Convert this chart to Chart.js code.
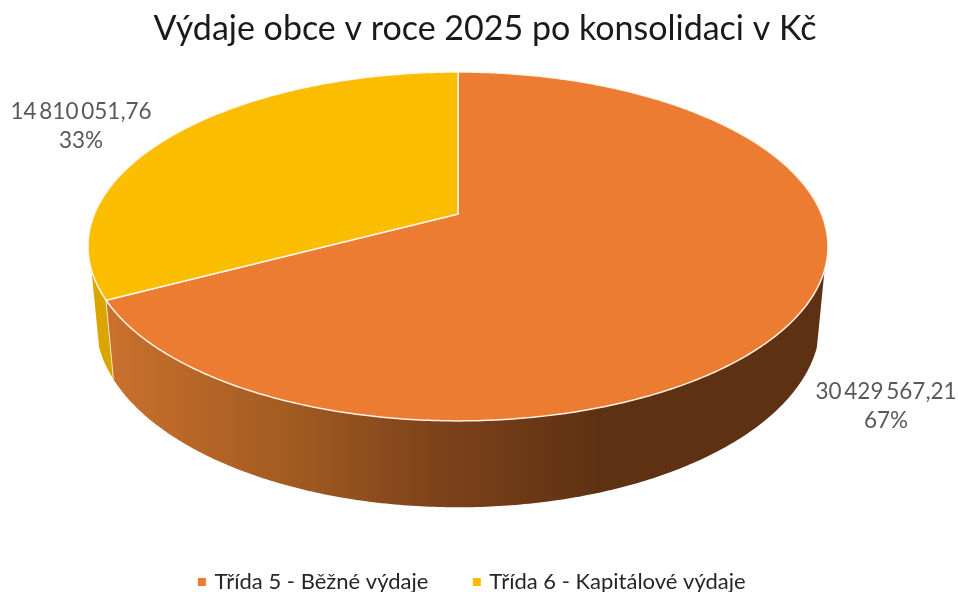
<!DOCTYPE html>
<html>
<head>
<meta charset="utf-8">
<script src="https://cdn.jsdelivr.net/npm/chart.js@4"></script>
<style>
html, body { margin: 0; padding: 0; background: #fff; }
canvas { display: block; }
</style>
</head>
<body>
<canvas id="chart" width="958" height="592"></canvas>
<script>
var chartTitle = 'Výdaje obce v roce 2025 po konsolidaci v Kč';
var categories = ['Třída 5 - Běžné výdaje', 'Třída 6 - Kapitálové výdaje'];
var values = [30429567.21, 14810051.76];
var valueLabels = ['30\u2009429\u2009567,21', '14\u2009810\u2009051,76'];
var percentLabels = ['67%', '33%'];

var topColors = ['#eb7c31', '#fbbd00'];
var wallColors = [null, '#dba500'];
var labelSpots = [[886, 392], [81, 112]];

// perspective of the disc, the angles themselves come from the pie's arcs
var view = { x: 458, y: 214, a: 363.5, b: 168.4, k: 0.186, wallX: 0.979, wallY: 1.06, wallDrop: 74, wallFrom: 0.313 };

function project(angle, low) {
	// chart.js angle 0 is at 3 o'clock, -PI/2 at the top
	var u = Math.cos(angle);
	var v = Math.sin(angle);
	var w = 1 - view.k * v;
	if (low) {
		return [view.x + view.wallX * view.a * u / w, view.y + view.wallDrop + view.wallY * view.b * v / w];
	}
	return [view.x + view.a * u / w, view.y + view.b * v / w];
}

function trace(ctx, from, to, low, first) {
	var steps = Math.max(2, Math.ceil(Math.abs(to - from) / 0.01));
	for (var i = 0; i <= steps; i++) {
		var p = project(from + (to - from) * i / steps, low);
		if (i == 0 && first) ctx.moveTo(p[0], p[1]);
		else ctx.lineTo(p[0], p[1]);
	}
}

var pie3d = {
	id: 'pie3d',
	afterLayout: function(chart) {
		chart.titleBlock.left += 6;
		chart.titleBlock.right += 6;
		chart.legend.left -= 6;
		chart.legend.right -= 6;
		chart.legend.top += 11;
		chart.legend.bottom += 11;
	},
	beforeDatasetsDraw: function(chart) {
		var ctx = chart.ctx;
		var arcs = chart.getDatasetMeta(0).data;
		var edge = Math.acos(view.wallFrom);
		var wallStart = Math.PI / 2 - edge;
		var wallEnd = Math.PI / 2 + edge;

		var shade = ctx.createLinearGradient(113, 0, 640, 0);
		shade.addColorStop(0, '#c9702d');
		shade.addColorStop(0.35, '#a05a20');
		shade.addColorStop(0.6, '#7f431b');
		shade.addColorStop(0.92, '#5f3113');
		shade.addColorStop(1, '#5f3113');

		arcs.forEach(function(arc, i) {
			var from = Math.max(arc.startAngle, wallStart);
			var to = Math.min(arc.endAngle, wallEnd);
			if (to <= from) return;
			ctx.beginPath();
			trace(ctx, from, to, false, true);
			trace(ctx, to, from, true, false);
			ctx.closePath();
			ctx.fillStyle = wallColors[i] || shade;
			ctx.fill();
		});

		// seam between the two walls
		var seam = arcs[0].endAngle;
		var p1 = project(seam, false), p2 = project(seam, true);
		ctx.beginPath();
		ctx.moveTo(p1[0], p1[1]);
		ctx.lineTo(p2[0], p2[1]);
		ctx.strokeStyle = 'rgba(255,240,215,0.85)';
		ctx.lineWidth = 1;
		ctx.stroke();

		arcs.forEach(function(arc) {
			ctx.beginPath();
			ctx.moveTo(view.x, view.y);
			trace(ctx, arc.startAngle, arc.endAngle, false, false);
			ctx.closePath();
			ctx.fillStyle = arc.options.backgroundColor;
			ctx.fill();
			ctx.strokeStyle = 'rgba(255,248,238,0.95)';
			ctx.lineWidth = 1.5;
			ctx.lineJoin = 'round';
			ctx.stroke();
		});
		return false;
	},
	afterDraw: function(chart) {
		var ctx = chart.ctx;
		ctx.save();
		ctx.font = '22.5px Lato';
		ctx.fillStyle = '#595959';
		ctx.textAlign = 'center';
		ctx.textBaseline = 'middle';
		valueLabels.forEach(function(text, i) {
			ctx.fillText(text, labelSpots[i][0], labelSpots[i][1]);
			ctx.fillText(percentLabels[i], labelSpots[i][0], labelSpots[i][1] + 29);
		});
		ctx.restore();
	}
};

var chart = new Chart(document.getElementById('chart').getContext('2d'), {
	type: 'pie',
	data: {
		labels: categories,
		datasets: [{
			data: values,
			backgroundColor: topColors,
			borderColor: '#ffffff'
		}]
	},
	options: {
		responsive: false,
		animation: false,
		plugins: {
			tooltip: { enabled: false },
			title: {
				display: true,
				text: chartTitle,
				color: '#1a1a1a',
				font: { family: 'Lato', size: 34, weight: 'normal' },
				padding: { top: 9, bottom: 10 }
			},
			legend: {
				position: 'bottom',
				labels: {
					color: '#262626',
					font: { family: 'Lato', size: 22 },
					usePointStyle: true,
					pointStyle: 'rect',
					boxWidth: 3,
					boxHeight: 10,
					padding: 47
				}
			}
		}
	},
	plugins: [pie3d]
});
</script>
</body>
</html>
